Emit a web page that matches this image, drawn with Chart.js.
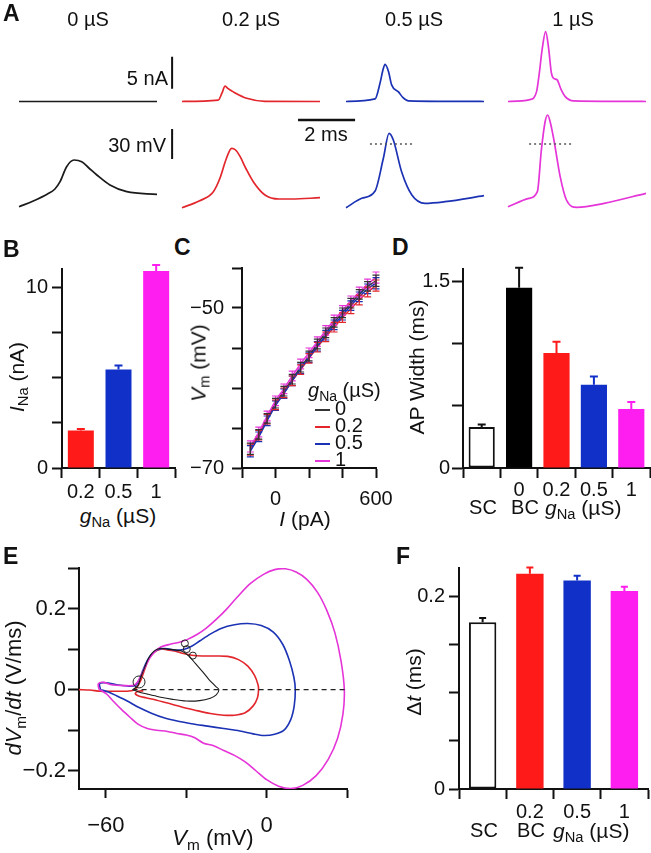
<!DOCTYPE html>
<html>
<head>
<meta charset="utf-8">
<title>gNa model figure</title>
<script src="https://cdn.jsdelivr.net/npm/chart.js@4.4.1/dist/chart.umd.min.js"></script>
<style>
  body { margin: 0; background: #fff; }
  #fig { position: relative; width: 651px; height: 853px; overflow: hidden;
         font-family: "Liberation Sans", Arial, Helvetica, sans-serif; color: #111; }
  #fig canvas { position: absolute; }
  .tx { position: absolute; white-space: nowrap; line-height: 1; font-size: 20px;
        transform: translate(-50%, -50%); }
  .ax { font-size: 21px; }
  .rt { transform: translate(-50%, -50%) rotate(-90deg); }
  .lt { transform: translate(0, -50%); }
  .rr { transform: translate(-100%, -50%); }
  .pl { font-weight: bold; font-size: 23px; transform: translate(0, -50%); }
  sub { font-size: 70%; vertical-align: -0.3em; line-height: 0; }
  .key { position: absolute; font-size: 20px; line-height: 1; white-space: nowrap; transform: translate(0, -50%); }
  .key b { display: inline-block; width: 15px; height: 2px; vertical-align: middle; margin-right: 5px; }
</style>
</head>
<body>
<div id="fig">
  <canvas id="trace0"></canvas>
  <canvas id="trace02"></canvas>
  <canvas id="trace05"></canvas>
  <canvas id="trace1"></canvas>
  <canvas id="chartB"></canvas>
  <canvas id="chartC"></canvas>
  <canvas id="chartD"></canvas>
  <canvas id="chartE"></canvas>
  <canvas id="chartF"></canvas>

  <div class="tx pl" style="left:3px;top:13px">A</div>
  <div class="tx pl" style="left:3px;top:249px">B</div>
  <div class="tx pl" style="left:174px;top:247px">C</div>
  <div class="tx pl" style="left:392px;top:247px">D</div>
  <div class="tx pl" style="left:3px;top:556px">E</div>
  <div class="tx pl" style="left:396px;top:556px">F</div>

  <div class="tx" style="left:88px;top:19px">0 µS</div>
  <div class="tx" style="left:251px;top:19px">0.2 µS</div>
  <div class="tx" style="left:414px;top:19px">0.5 µS</div>
  <div class="tx" style="left:573px;top:19px">1 µS</div>
  <div class="tx rr" style="left:168px;top:78px">5 nA</div>
  <div class="tx rr" style="left:166px;top:145px">30 mV</div>
  <div class="tx" style="left:326px;top:134px">2 ms</div>

  <div class="tx ax rt" style="left:16px;top:377px"><i>I</i><sub>Na</sub> (nA)</div>
  <div class="tx ax" style="left:118px;top:515px"><i>g</i><sub>Na</sub> (µS)</div>

  <div class="tx ax rt" style="left:198px;top:363px"><i>V</i><sub>m</sub> (mV)</div>
  <div class="tx ax" style="left:305px;top:518px"><i>I</i> (pA)</div>
  <div class="key" style="left:308px;top:390px"><i>g</i><sub>Na</sub> (µS)</div>
  <div class="key" style="left:315px;top:408px"><b style="background:#333"></b>0</div>
  <div class="key" style="left:315px;top:425px"><b style="background:#e2262c"></b>0.2</div>
  <div class="key" style="left:315px;top:442px"><b style="background:#1c32b4"></b>0.5</div>
  <div class="key" style="left:315px;top:459px"><b style="background:#e534d8"></b>1</div>

  <div class="tx ax rt" style="left:416px;top:367px">AP Width (ms)</div>
  <div class="tx" style="left:483px;top:507px">SC</div>
  <div class="tx" style="left:525px;top:507px">BC</div>
  <div class="tx ax lt" style="left:545px;top:507px"><i>g</i><sub>Na</sub> (µS)</div>

  <div class="tx rt" style="left:14px;top:688px;font-size:22px"><i>dV</i><sub>m</sub>/<i>dt</i> (V/ms)</div>
  <div class="tx" style="left:213px;top:838px;font-size:22px"><i>V</i><sub>m</sub> (mV)</div>

  <div class="tx ax rt" style="left:413px;top:682px">Δ<i>t</i> (ms)</div>
  <div class="tx" style="left:484px;top:830px">SC</div>
  <div class="tx" style="left:531px;top:830px">BC</div>
  <div class="tx ax lt" style="left:553px;top:830px"><i>g</i><sub>Na</sub> (µS)</div>
</div>

<script>
// ---------- data ----------
const INK = '#111';
const RED = '#ff1a1a', BLUE = '#1030c8', MAG = '#ff1ef0';
const RED_T = '#e2262c', BLUE_T = '#1c32b4', MAG_T = '#e534d8', BLACK_T = '#1a1a1a';

// A: example traces, [time (ms), value]; current in nA, voltage in mV
const curr0 = [[0, 0], [2.4, 0], [4.84, 0]];
const volt0 = [[0, -62.7], [0.5, -57], [1.0, -50], [1.26, -45], [1.44, -37.7], [1.67, -22.7], [1.93, -16],
               [2.2, -17.7], [2.45, -24], [2.73, -31], [3.19, -41], [3.78, -47.7], [4.84, -50.3]];
const curr02 = [[0, 0], [1.27, 0.2], [1.4, 1.3], [1.51, 2.4], [1.62, 2.0], [1.8, 1.5], [2.27, 0.5], [2.91, 0.02], [4.84, 0]];
const volt02 = [[0, -63.7], [0.6, -57], [1.1, -47.7], [1.33, -34.3], [1.55, -15], [1.74, -4.3], [1.88, -6],
                [2.04, -12.7], [2.25, -25], [2.5, -37.7], [2.91, -51], [3.4, -55], [3.85, -55], [4.84, -53.7]];
const curr05 = [[0, 0], [1.02, 0.4], [1.19, 2.8], [1.3, 5.0], [1.37, 5.8], [1.49, 4.7], [1.6, 2.6], [1.84, 1.5],
                [2.0, 0.6], [2.19, 0.1], [4.84, 0]];
const volt05 = [[0, -63.7], [0.55, -54.3], [1.02, -47], [1.31, -14.3], [1.51, 10.7], [1.66, 4], [1.95, -27.7],
                [2.31, -51], [2.77, -59.3], [3.47, -57.7], [4.84, -51.7]];
const curr1 = [[0, 0], [0.77, 0.3], [1.0, 1.5], [1.1, 4.5], [1.2, 8.2], [1.32, 10.9], [1.42, 8.5], [1.52, 4.5],
               [1.6, 3.6], [1.72, 3.4], [1.85, 2.0], [2.0, 0.8], [2.3, 0.1], [4.84, 0]];
const volt1 = [[0, -62.7], [0.73, -54.3], [1.03, -47.7], [1.17, -6], [1.3, 22], [1.39, 29], [1.48, 22], [1.61, 4],
               [1.83, -32.7], [2.05, -56], [2.42, -63.3], [3.37, -59.3], [4.84, -49.3]];
const half05 = [[0.84, 0], [2.35, 0]];
const half1 = [[0.74, 0], [2.28, 0]];
const SCALE_NA = 5, SCALE_MV = 30, SCALE_MS = 2;

// B: peak Na current
const gLabels = ['0.2', '0.5', '1'];
const iNa = [2.07, 5.44, 10.89];
const iNaSem = [0.09, 0.22, 0.33];
const bTicks = [0, 2.5, 5, 7.5, 10], bShown = [0, 10];

// C: V-I relation
const iSteps = [-150, -100, -50, 0, 50, 100, 150, 200, 250, 300, 350, 400, 450, 500, 550, 600];
const vm0  = [-67.6, -65.8, -63.8, -61.9, -60.4, -58.9, -57.4, -56.0, -54.5, -53.1, -51.8, -50.6, -49.4, -48.3, -47.3, -46.6];
const vm02 = [-67.7, -65.9, -63.9, -62.1, -60.6, -59.1, -57.7, -56.3, -54.9, -53.6, -52.4, -51.2, -50.1, -49.0, -48.0, -47.2];
const vm05 = [-67.9, -66.1, -64.1, -62.2, -60.7, -59.1, -57.6, -56.2, -54.8, -53.4, -52.1, -50.9, -49.7, -48.6, -47.6, -46.9];
const vm1  = [-67.3, -65.5, -63.5, -61.6, -60.1, -58.5, -57.0, -55.6, -54.2, -52.8, -51.5, -50.3, -49.1, -48.0, -47.0, -46.2];
const vmSem = [0.7, 0.6, 0.6, 0.6, 0.6, 0.6, 0.6, 0.6, 0.6, 0.6, 0.6, 0.6, 0.6, 0.6, 0.6, 0.7];
const cXTicks = [-200, 0, 200, 400, 600], cXShown = [0, 600];
const cYTicks = [-70, -65, -60, -55, -50, -45], cYShown = [-70, -50];

// D: AP width
const widthLabels = ['', '0', '0.2', '0.5', '1'];
const apWidth = [0.33, 1.45, 0.925, 0.67, 0.475];
const apWidthSem = [0.02, 0.16, 0.09, 0.065, 0.055];
const dTicks = [0, 0.5, 1, 1.5], dShown = [0, 1.5];

// E: phase plots, [Vm (mV), dVm/dt (V/ms)]
const phaseBlack = [[-50, 0], [-48, 0.01], [-47, 0.03], [-45.5, 0.055], [-44, 0.078], [-42, 0.095], [-39.5, 0.102],
  [-37, 0.1], [-34, 0.098], [-31.5, 0.095], [-29, 0.083], [-26.5, 0.064], [-24, 0.045], [-21.5, 0.025], [-19, 0.008],
  [-17.8, 0], [-18.8, -0.013], [-21, -0.021], [-25, -0.027], [-30, -0.028], [-35, -0.024], [-40, -0.018],
  [-44.5, -0.011], [-48, -0.005], [-50, 0]];
const phaseRed = [[-70, 0], [-66, -0.001], [-62, -0.004], [-58, -0.004], [-54, -0.004], [-50, -0.002], [-48.5, 0.005],
  [-47, 0.022], [-45.5, 0.05], [-44, 0.075], [-42, 0.092], [-39.5, 0.1], [-37, 0.098], [-34, 0.095], [-31, 0.089],
  [-28, 0.085], [-24, 0.083], [-19, 0.083], [-14.5, 0.082], [-10.5, 0.074], [-7, 0.058], [-4.5, 0.035], [-3.2, 0.012],
  [-3, 0], [-3.4, -0.02], [-5, -0.04], [-8, -0.057], [-12, -0.063], [-16, -0.063], [-21, -0.059], [-27, -0.05],
  [-32, -0.042], [-37, -0.033], [-41, -0.026], [-45, -0.02], [-47.5, -0.016], [-49, -0.01], [-48, -0.004], [-46, -0.003]];
const phaseBlue = [[-62, 0], [-62.3, 0.015], [-60, 0.017], [-56, 0.012], [-52, 0.009], [-49, 0.01], [-47.5, 0.025],
  [-46, 0.05], [-44.5, 0.072], [-42.5, 0.09], [-40, 0.1], [-37, 0.101], [-34, 0.097], [-31, 0.099], [-28, 0.107],
  [-25, 0.12], [-21, 0.137], [-17, 0.151], [-12, 0.16], [-7, 0.163], [-2, 0.158], [2.5, 0.142], [6, 0.112],
  [8.5, 0.072], [10.2, 0.03], [10.7, 0], [10.3, -0.04], [9, -0.074], [6.5, -0.1], [3, -0.11], [-1, -0.113],
  [-5, -0.109], [-10, -0.102], [-16, -0.096], [-22, -0.09], [-28, -0.084], [-33, -0.078], [-38, -0.07],
  [-43, -0.058], [-48, -0.043], [-52, -0.028], [-56, -0.015], [-59, -0.006], [-62, 0]];
const phaseMag = [[-62.5, 0], [-62.8, 0.014], [-61, 0.018], [-58, 0.012], [-53, 0.01], [-49.5, 0.011], [-48, 0.02],
  [-46.6, 0.039], [-45, 0.06], [-43.5, 0.079], [-41.5, 0.095], [-39.5, 0.105], [-36, 0.112], [-32.5, 0.117],
  [-29.5, 0.124], [-26, 0.136], [-22.5, 0.152], [-19, 0.172], [-15, 0.198], [-11, 0.228], [-6, 0.262], [-1, 0.285],
  [3, 0.296], [7, 0.298], [11, 0.29], [15, 0.272], [19, 0.24], [22.5, 0.195], [25.5, 0.14], [27.8, 0.07], [29, 0],
  [28.5, -0.06], [26.5, -0.12], [23, -0.172], [18.5, -0.212], [13.5, -0.236], [9, -0.244], [4.5, -0.238],
  [0, -0.222], [-4, -0.2], [-8, -0.178], [-12, -0.162], [-16, -0.15], [-20, -0.138], [-23.5, -0.132], [-27, -0.118],
  [-30, -0.112], [-33.5, -0.108], [-37, -0.103], [-41, -0.1], [-44.5, -0.096], [-48, -0.085], [-51, -0.068],
  [-54, -0.05], [-57, -0.03], [-59.5, -0.012], [-61.5, -0.003], [-62.5, 0]];
const thresholdPts = [[-47.6, 0.019], [-30.5, 0.114], [-29.8, 0.1], [-27.5, 0.084]];
const zeroLine = [[-50, 0], [30, 0]];
const eXTicks = [-60, -30, 0, 30], eXShown = [-60, 0];
const eYTicks = [-0.2, -0.1, 0, 0.1, 0.2, 0.3], eYShown = [-0.2, 0, 0.2];

// F: delay
const dtLabels = ['', '0.2', '0.5', '1'];
const deltaT = [0.1735, 0.224, 0.217, 0.206];
const deltaTSem = [0.0045, 0.0065, 0.005, 0.0045];
const fTicks = [0, 0.05, 0.1, 0.15, 0.2], fShown = [0, 0.2];

// ---------- helpers ----------
Chart.defaults.font.family = '"Liberation Sans", Arial, Helvetica, sans-serif';
Chart.defaults.font.size = 20;
Chart.defaults.color = INK;
Chart.defaults.animation = false;
Chart.defaults.responsive = false;
Chart.defaults.maintainAspectRatio = false;
Chart.defaults.plugins.legend.display = false;
Chart.defaults.plugins.tooltip.enabled = false;

const pts = a => a.map(([x, y]) => ({x, y}));
const fmt = v => v < 0 ? '\u2212' + String(-v) : String(v);

// size and place a canvas so the plot area lands on the given page box
function place(id, area, m) {
  const c = document.getElementById(id);
  c.width = area.r - area.l + m.l + m.r;
  c.height = area.b - area.t + m.t + m.b;
  c.style.left = (area.l - m.l) + 'px';
  c.style.top = (area.t - m.t) + 'px';
  return {left: 0, top: m.t, right: m.r, bottom: 0};
}
function fitW(w) {
  return s => { s.width = w; s.paddingTop = 0; s.paddingBottom = 0; s.paddingLeft = 0; s.paddingRight = 0; };
}
function fitH(h) {
  return s => { s.height = h; s.paddingTop = 0; s.paddingBottom = 0; s.paddingLeft = 0; s.paddingRight = 0; };
}
function axisLines(len) {
  return {
    border: {display: true, color: INK, width: 2},
    grid: {drawOnChartArea: false, drawTicks: true, tickLength: len, tickWidth: 2, tickColor: INK, color: INK}
  };
}
function fixedTicks(values, shown, padding, size) {
  return {
    afterBuildTicks: s => { s.ticks = values.map(v => ({value: v})); },
    ticks: {autoSkip: false, maxRotation: 0, padding: padding, font: {size: size || 20},
            callback: v => shown.includes(v) ? fmt(v) : ''}
  };
}

const errorBars = {
  id: 'errorBars',
  afterDatasetsDraw(chart) {
    const ctx = chart.ctx;
    chart.data.datasets.forEach((ds, i) => {
      if (!ds.sem) return;
      const meta = chart.getDatasetMeta(i);
      const ys = chart.scales[meta.yAxisID];
      const half = ds.capHalf || 4;
      ctx.save();
      ctx.lineWidth = ds.errWidth || 2;
      meta.data.forEach((el, k) => {
        const raw = ds.data[k];
        const v = typeof raw === 'object' ? raw.y : raw;
        const hi = ys.getPixelForValue(v + ds.sem[k]);
        const lo = ds.both ? ys.getPixelForValue(v - ds.sem[k]) : el.y;
        ctx.strokeStyle = Array.isArray(ds.errColor) ? ds.errColor[k] : (ds.errColor || ds.borderColor);
        ctx.beginPath();
        ctx.moveTo(el.x, lo); ctx.lineTo(el.x, hi);
        ctx.moveTo(el.x - half, hi); ctx.lineTo(el.x + half, hi);
        if (ds.both) { ctx.moveTo(el.x - half, lo); ctx.lineTo(el.x + half, lo); }
        ctx.stroke();
      });
      ctx.restore();
    });
  }
};

// ---------- A: traces ----------
const ampBars = {
  id: 'ampBars',
  afterDraw(chart) {
    const {ctx, scales: {x, yI, yV}} = chart;
    const px = x.getPixelForValue(5.37);
    ctx.save();
    ctx.strokeStyle = INK; ctx.lineWidth = 2;
    ctx.beginPath();
    ctx.moveTo(px, yI.getPixelForValue(2)); ctx.lineTo(px, yI.getPixelForValue(2 + SCALE_NA));
    ctx.moveTo(px, yV.getPixelForValue(-15)); ctx.lineTo(px, yV.getPixelForValue(-15 + SCALE_MV));
    ctx.stroke();
    ctx.restore();
  }
};
const timeBar = {
  id: 'timeBar',
  afterDraw(chart) {
    const {ctx, scales: {x, yV}} = chart;
    const py = yV.getPixelForValue(24);
    ctx.save();
    ctx.strokeStyle = INK; ctx.lineWidth = 2.5;
    ctx.beginPath();
    ctx.moveTo(x.getPixelForValue(4.07), py); ctx.lineTo(x.getPixelForValue(4.07 + SCALE_MS), py);
    ctx.stroke();
    ctx.restore();
  }
};

function traceChart(id, x0, cur, volt, color, half, padRight, extra) {
  const m = {l: 2, t: 2, r: padRight, b: 2};
  place(id, {l: x0, t: 25, r: x0 + 138, b: 212}, m);
  const datasets = [
    {data: pts(cur), yAxisID: 'yI', borderColor: color, borderWidth: 1.7},
    {data: pts(volt), yAxisID: 'yV', borderColor: color, borderWidth: 1.7}
  ];
  if (half) {
    datasets.unshift({data: pts(half), yAxisID: 'yV', borderColor: '#555', borderWidth: 1.5, borderDash: [2, 3]});
  }
  datasets.forEach(d => { d.pointRadius = 0; d.cubicInterpolationMode = 'monotone'; d.clip = false; });
  new Chart(id, {
    type: 'line',
    data: {datasets},
    options: {
      layout: {padding: {left: m.l, top: m.t, right: m.r, bottom: m.b}},
      scales: {
        x: {type: 'linear', display: false, min: 0, max: 4.84},
        yI: {type: 'linear', display: false, min: -17.27, max: 11.95},
        yV: {type: 'linear', display: false, min: -68, max: 119}
      }
    },
    plugins: extra ? [extra] : []
  });
}
traceChart('trace0', 19, curr0, volt0, BLACK_T, null, 18, ampBars);
traceChart('trace02', 182, curr02, volt02, RED_T, null, 38, timeBar);
traceChart('trace05', 346, curr05, volt05, BLUE_T, half05, 4, null);
traceChart('trace1', 508, curr1, volt1, MAG_T, half1, 4, null);

// ---------- B ----------
const bM = {l: 52, t: 8, r: 6, b: 34};
new Chart('chartB', {
  type: 'bar',
  data: {labels: gLabels, datasets: [{
    data: iNa, sem: iNaSem, errColor: [RED, BLUE, MAG],
    backgroundColor: [RED, BLUE, MAG], borderWidth: 0, barPercentage: 0.69, categoryPercentage: 1
  }]},
  options: {
    layout: {padding: place('chartB', {l: 62, t: 269, r: 175, b: 468}, bM)},
    scales: {
      x: {...axisLines(10), ticks: {padding: 2, autoSkip: false, maxRotation: 0}, afterFit: fitH(bM.b)},
      y: {...axisLines(10), min: 0, max: 11, ...fixedTicks(bTicks, bShown, 4), afterFit: fitW(bM.l)}
    }
  },
  plugins: [errorBars]
});

// ---------- C ----------
const cM = {l: 56, t: 8, r: 24, b: 38};
const cSeries = [[vm1, MAG_T], [vm05, BLUE_T], [vm02, RED_T], [vm0, '#333']];
new Chart('chartC', {
  type: 'line',
  data: {datasets: cSeries.map(([vals, color]) => ({
    data: iSteps.map((x, k) => ({x, y: vals[k]})), sem: vmSem, both: true, capHalf: 3.5, errWidth: 1.2,
    borderColor: color, borderWidth: 1.5, pointRadius: 0, tension: 0.3
  }))},
  options: {
    layout: {padding: place('chartC', {l: 242, t: 268, r: 376, b: 468}, cM)},
    scales: {
      x: {type: 'linear', min: -200, max: 600, ...axisLines(10), ...fixedTicks(cXTicks, cXShown, 9), afterFit: fitH(cM.b)},
      y: {type: 'linear', min: -70, max: -45, ...axisLines(10), ...fixedTicks(cYTicks, cYShown, 8), afterFit: fitW(cM.l)}
    }
  },
  plugins: [errorBars]
});

// ---------- D ----------
const dM = {l: 52, t: 14, r: 1, b: 32};
new Chart('chartD', {
  type: 'bar',
  data: {labels: widthLabels, datasets: [{
    data: apWidth, sem: apWidthSem, errColor: [INK, INK, RED, BLUE, MAG],
    backgroundColor: ['#fff', '#000', RED, BLUE, MAG], borderColor: [INK, '#000', RED, BLUE, MAG],
    borderWidth: [2, 0, 0, 0, 0], borderSkipped: false, barPercentage: 0.7, categoryPercentage: 1
  }]},
  options: {
    layout: {padding: place('chartD', {l: 463, t: 269, r: 650, b: 468}, dM)},
    scales: {
      x: {...axisLines(10), ticks: {padding: 0, autoSkip: false, maxRotation: 0}, afterFit: fitH(dM.b)},
      y: {...axisLines(11), min: 0, max: 1.6, ...fixedTicks(dTicks, dShown, 2), afterFit: fitW(dM.l)}
    }
  },
  plugins: [errorBars]
});

// ---------- E ----------
const eM = {l: 66, t: 6, r: 10, b: 50};
const eTraces = [[phaseBlack, BLACK_T, 1.1], [phaseMag, MAG_T, 1.6], [phaseBlue, BLUE_T, 1.6], [phaseRed, RED_T, 1.6]];
new Chart('chartE', {
  type: 'scatter',
  data: {datasets: [
    {data: pts(thresholdPts), pointRadius: [6, 3.5, 3.5, 3.5], pointBorderColor: '#222', pointBorderWidth: 1,
     pointBackgroundColor: 'rgba(0,0,0,0)', showLine: false},
    {data: pts(zeroLine), showLine: true, pointRadius: 0, borderColor: '#222', borderWidth: 1.2, borderDash: [5, 4]},
    ...eTraces.map(([p, color, w]) => ({data: pts(p), showLine: true, pointRadius: 0, borderColor: color,
                                        borderWidth: w, tension: 0.3}))
  ]},
  options: {
    layout: {padding: place('chartE', {l: 79, t: 567, r: 347, b: 789}, eM)},
    scales: {
      x: {type: 'linear', min: -70, max: 30, ...axisLines(9), ...fixedTicks(eXTicks, eXShown, 15, 22), afterFit: fitH(eM.b)},
      y: {type: 'linear', min: -0.245, max: 0.3, ...axisLines(11), ...fixedTicks(eYTicks, eYShown, 2, 22), afterFit: fitW(eM.l)}
    }
  }
});

// ---------- F ----------
const fM = {l: 56, t: 12, r: 3, b: 36};
new Chart('chartF', {
  type: 'bar',
  data: {labels: dtLabels, datasets: [{
    data: deltaT, sem: deltaTSem, errColor: [INK, RED, BLUE, MAG], capHalf: 3.5,
    backgroundColor: ['#fff', RED, BLUE, MAG], borderColor: [INK, RED, BLUE, MAG],
    borderWidth: [2, 0, 0, 0], borderSkipped: false, barPercentage: 0.58, categoryPercentage: 1
  }]},
  options: {
    layout: {padding: place('chartF', {l: 459, t: 568, r: 648, b: 789}, fM)},
    scales: {
      x: {...axisLines(10), ticks: {padding: 1, autoSkip: false, maxRotation: 0}, afterFit: fitH(fM.b)},
      y: {...axisLines(10), min: 0, max: 0.23, ...fixedTicks(fTicks, fShown, 4), afterFit: fitW(fM.l)}
    }
  },
  plugins: [errorBars]
});
</script>
</body>
</html>
